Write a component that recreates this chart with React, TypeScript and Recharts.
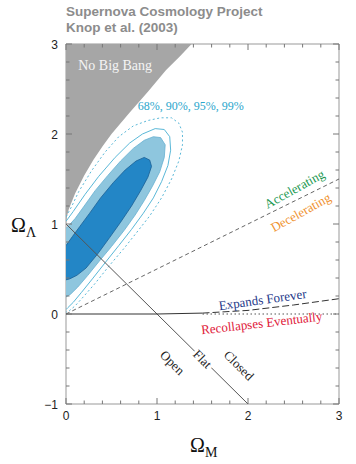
import React from 'react';
import { ComposedChart, XAxis, YAxis, Scatter } from 'recharts';

// ---------- data ----------
const X_TICKS = [0, 0.2, 0.4, 0.6, 0.8, 1, 1.2, 1.4, 1.6, 1.8, 2, 2.2, 2.4, 2.6, 2.8, 3];
const Y_TICKS = [-1, -0.8, -0.6, -0.4, -0.2, 0, 0.2, 0.4, 0.6, 0.8, 1, 1.2, 1.4, 1.6, 1.8, 2, 2.2, 2.4, 2.6, 2.8, 3];

const NO_BIG_BANG: [number, number][] = [
  [0, 3], [0, 1.0], [0.01, 1.08], [0.03, 1.16], [0.06, 1.24], [0.1, 1.34], [0.2, 1.54],
  [0.3, 1.71], [0.4, 1.86], [0.5, 2.0], [0.7, 2.24], [0.9, 2.47], [1.1, 2.71], [1.25, 2.86], [1.38, 3.0],
];

const CONF_68: [number, number][] = [
  [0, 0.76], [0.07, 0.86], [0.15, 0.97], [0.26, 1.12], [0.38, 1.29], [0.52, 1.46], [0.65, 1.6],
  [0.77, 1.7], [0.86, 1.74], [0.92, 1.71], [0.94, 1.64], [0.9, 1.52], [0.82, 1.37], [0.72, 1.2],
  [0.6, 1.02], [0.48, 0.85], [0.35, 0.67], [0.22, 0.51], [0.12, 0.43], [0.04, 0.39], [0, 0.38],
];

const CONF_90: [number, number][] = [
  [0, 0.95], [0.1, 1.06], [0.2, 1.2], [0.32, 1.37], [0.46, 1.54], [0.6, 1.7], [0.74, 1.84],
  [0.86, 1.93], [0.96, 1.97], [1.04, 1.96], [1.09, 1.88], [1.08, 1.74], [1.03, 1.58], [0.95, 1.42],
  [0.86, 1.26], [0.76, 1.1], [0.64, 0.93], [0.5, 0.75], [0.36, 0.58], [0.24, 0.43], [0.13, 0.3],
  [0.05, 0.22], [0, 0.19],
];

const CONF_95: [number, number][] = [
  [0, 1.03], [0.08, 1.14], [0.21, 1.33], [0.36, 1.53], [0.54, 1.74], [0.7, 1.9], [0.84, 2.0],
  [0.98, 2.06], [1.08, 2.05], [1.14, 1.97], [1.15, 1.82], [1.12, 1.65], [1.05, 1.47], [0.96, 1.29],
  [0.85, 1.12], [0.72, 0.94], [0.58, 0.76], [0.43, 0.57], [0.29, 0.39], [0.17, 0.24], [0.08, 0.13],
  [0.02, 0.07], [0, 0.05],
];

const CONF_99: [number, number][] = [
  [0, 1.08], [0.06, 1.19], [0.14, 1.36], [0.28, 1.59], [0.43, 1.8], [0.58, 1.97], [0.74, 2.09],
  [0.9, 2.15], [1.04, 2.18], [1.16, 2.18], [1.24, 2.12], [1.28, 2.02], [1.28, 1.88], [1.24, 1.7],
  [1.16, 1.5], [1.05, 1.29], [0.92, 1.09], [0.78, 0.91], [0.63, 0.72], [0.47, 0.53], [0.32, 0.34],
  [0.19, 0.19], [0.1, 0.09], [0.04, 0.04], [0, 0.02],
];

const FLAT_LINE: [number, number][] = [[0, 1], [2, -1]];
const ACCEL_LINE: [number, number][] = [[0, 0], [3, 1.5]];
const EXPAND_SOLID: [number, number][] = [[0, 0], [1, 0], [1.5, 0.01]];
const EXPAND_DASHED: [number, number][] = [[1.5, 0.01], [2, 0.04], [2.5, 0.1], [3, 0.17]];
const ZERO_DOTTED: [number, number][] = [[1.5, 0], [3, 0]];

const LABEL_TEXT = [
  'No Big Bang', '68%, 90%, 95%, 99%', 'Accelerating', 'Decelerating',
  'Expands Forever', 'Recollapses Eventually', 'Open', 'Flat', 'Closed',
];
const LABEL_X = [0.54, 1.37, 2.51, 2.58, 2.16, 2.15, 1.17, 1.5, 1.9];
const LABEL_Y = [2.76, 2.31, 1.39, 1.13, 0.16, -0.1, -0.54, -0.5, -0.57];

// ---------- styling ----------
const LABEL_STYLE = [
  { color: '#f4f4f4', size: 14, angle: 0 },
  { color: '#2aa6cc', size: 12, angle: 0 },
  { color: '#1a9850', size: 13, angle: -29 },
  { color: '#f0922e', size: 13, angle: -29 },
  { color: '#25398a', size: 13, angle: -8 },
  { color: '#e0203a', size: 13, angle: -6.5 },
  { color: '#222', size: 13, angle: 45 },
  { color: '#222', size: 13, angle: 45, halo: true },
  { color: '#222', size: 13, angle: 45 },
];

const SERIF = '"Liberation Serif", "Times New Roman", serif';
const SANS = '"Liberation Sans", Arial, Helvetica, sans-serif';

const pts = (a: [number, number][]) => a.map(([x, y]) => ({ x, y }));
const isMajor = (v: number) => Math.abs(v - Math.round(v)) < 1e-6;
const fmt = (v: number) => (v < 0 ? `\u2212${Math.abs(v)}` : `${v}`);
const Empty = () => <g />;

const TICK_COLOR = '#777';

function BottomTick(p: any) {
  const { x, y, payload } = p;
  const major = isMajor(payload.value);
  return (
    <g>
      <line x1={x} x2={x} y1={y} y2={y - (major ? 6 : 3.5)} stroke={TICK_COLOR} strokeWidth={1} />
      {major && (
        <text x={x} y={y + 16} textAnchor="middle" fontSize={12} fontFamily={SANS} fill="#222">
          {fmt(Math.round(payload.value))}
        </text>
      )}
    </g>
  );
}
function TopTick(p: any) {
  const { x, y, payload } = p;
  const major = isMajor(payload.value);
  return <line x1={x} x2={x} y1={y} y2={y + (major ? 6 : 3.5)} stroke={TICK_COLOR} strokeWidth={1} />;
}
function LeftTick(p: any) {
  const { x, y, payload } = p;
  const major = isMajor(payload.value);
  return (
    <g>
      <line x1={x} x2={x + (major ? 6 : 3.5)} y1={y} y2={y} stroke={TICK_COLOR} strokeWidth={1} />
      {major && (
        <text x={x - 8} y={y + 4.5} textAnchor="end" fontSize={12} fontFamily={SANS} fill="#222">
          {fmt(Math.round(payload.value))}
        </text>
      )}
    </g>
  );
}
function RightTick(p: any) {
  const { x, y, payload } = p;
  const major = isMajor(payload.value);
  return <line x1={x} x2={x - (major ? 6 : 3.5)} y1={y} y2={y} stroke={TICK_COLOR} strokeWidth={1} />;
}

const makeLabel = (i: number) => (p: any) => {
  const s: any = LABEL_STYLE[i];
  const { cx, cy } = p;
  return (
    <text
      x={cx}
      y={cy}
      transform={`rotate(${s.angle} ${cx} ${cy})`}
      textAnchor="middle"
      dominantBaseline="central"
      fontFamily={SERIF}
      fontSize={s.size}
      fill={s.color}
      stroke={s.halo ? '#fff' : 'none'}
      strokeWidth={s.halo ? 5 : 0}
      paintOrder="stroke"
    >
      {LABEL_TEXT[i]}
    </text>
  );
};

const AX = { xAxisId: 'b', yAxisId: 'l' } as const;

export default function App() {
  return (
    <div style={{ position: 'absolute', left: 0, top: 0, width: 356, height: 464, background: '#fff' }}>
      <div
        style={{
          position: 'absolute', left: 66, top: 4, fontFamily: SANS, fontWeight: 700,
          fontSize: 13.5, lineHeight: '16px', color: '#8c8c8c', whiteSpace: 'nowrap',
        }}
      >
        <div>Supernova Cosmology Project</div>
        <div>Knop et al. (2003)</div>
      </div>
      <ComposedChart width={356} height={464} margin={{ top: 43, right: 16, bottom: 59, left: 65 }}>
        <XAxis
          xAxisId="b" type="number" dataKey="x" domain={[0, 3]} ticks={X_TICKS} interval={0}
          height={1} tickSize={0} tickMargin={0} tickLine={false} allowDataOverflow
          axisLine={{ stroke: '#999' }} tick={(p: any) => <BottomTick {...p} />}
        />
        <XAxis
          xAxisId="t" orientation="top" type="number" dataKey="x" domain={[0, 3]} ticks={X_TICKS}
          interval={0} height={1} tickSize={0} tickMargin={0} tickLine={false} allowDataOverflow
          axisLine={{ stroke: '#999' }} tick={(p: any) => <TopTick {...p} />}
        />
        <YAxis
          yAxisId="l" type="number" dataKey="y" domain={[-1, 3]} ticks={Y_TICKS} interval={0}
          width={1} tickSize={0} tickMargin={0} tickLine={false} allowDataOverflow
          axisLine={{ stroke: '#999' }} tick={(p: any) => <LeftTick {...p} />}
        />
        <YAxis
          yAxisId="r" orientation="right" type="number" dataKey="y" domain={[-1, 3]} ticks={Y_TICKS}
          interval={0} width={1} tickSize={0} tickMargin={0} tickLine={false} allowDataOverflow
          axisLine={{ stroke: '#999' }} tick={(p: any) => <RightTick {...p} />}
        />

        <Scatter {...AX} data={pts(NO_BIG_BANG)} line={{ fill: '#a6a6a6', stroke: 'none' }} lineType="joint" shape={Empty} isAnimationActive={false} />

        <Scatter {...AX} data={pts(CONF_99)} line={{ fill: 'none', stroke: '#5ab8d8', strokeWidth: 1, strokeDasharray: '2 2.5' }} lineType="joint" shape={Empty} isAnimationActive={false} />
        <Scatter {...AX} data={pts(CONF_95)} line={{ fill: 'none', stroke: '#5ab8d8', strokeWidth: 1 }} lineType="joint" shape={Empty} isAnimationActive={false} />
        <Scatter {...AX} data={pts(CONF_90)} line={{ fill: '#8ec6de', stroke: '#66b0d0', strokeWidth: 0.8 }} lineType="joint" shape={Empty} isAnimationActive={false} />
        <Scatter {...AX} data={pts(CONF_68)} line={{ fill: '#2386c6', stroke: '#1a5f96', strokeWidth: 0.8 }} lineType="joint" shape={Empty} isAnimationActive={false} />

        <Scatter {...AX} data={pts(ACCEL_LINE)} line={{ fill: 'none', stroke: '#555', strokeWidth: 0.9, strokeDasharray: '4 3' }} lineType="joint" shape={Empty} isAnimationActive={false} />
        <Scatter {...AX} data={pts(FLAT_LINE)} line={{ fill: 'none', stroke: '#555', strokeWidth: 1 }} lineType="joint" shape={Empty} isAnimationActive={false} />
        <Scatter {...AX} data={pts(EXPAND_SOLID)} line={{ fill: 'none', stroke: '#333', strokeWidth: 1 }} lineType="joint" shape={Empty} isAnimationActive={false} />
        <Scatter {...AX} data={pts(EXPAND_DASHED)} line={{ fill: 'none', stroke: '#333', strokeWidth: 1, strokeDasharray: '7 3' }} lineType="joint" shape={Empty} isAnimationActive={false} />
        <Scatter {...AX} data={pts(ZERO_DOTTED)} line={{ fill: 'none', stroke: '#555', strokeWidth: 1, strokeDasharray: '1.5 2.5' }} lineType="joint" shape={Empty} isAnimationActive={false} />

        {LABEL_TEXT.map((t, i) => (
          <Scatter key={t} {...AX} data={[{ x: LABEL_X[i], y: LABEL_Y[i] }]} shape={makeLabel(i)} isAnimationActive={false} />
        ))}
      </ComposedChart>
      <svg width={356} height={464} style={{ position: 'absolute', left: 0, top: 0, pointerEvents: 'none' }}>
        <text x={190} y={452} fontFamily={SERIF} fontSize={20} fill="#111">
          Ω<tspan fontSize={14} dy={5}>M</tspan>
        </text>
        <text x={11} y={232} fontFamily={SERIF} fontSize={20} fill="#111">
          Ω<tspan fontSize={14} dy={5}>Λ</tspan>
        </text>
      </svg>
    </div>
  );
}
